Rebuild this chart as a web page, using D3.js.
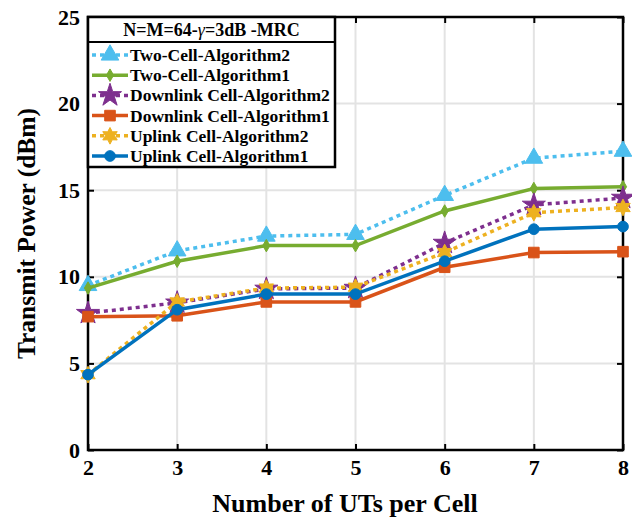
<!DOCTYPE html>
<html>
<head>
<meta charset="utf-8">
<script src="https://cdn.jsdelivr.net/npm/d3@7"></script>
<style>
  body { margin: 0; background: #fff; overflow: hidden; }
  svg { display: block; }
  text { font-family: "Liberation Serif", "Times New Roman", serif; font-weight: bold; fill: #000; }
</style>
</head>
<body>
<div id="chart"></div>
<script>
const users = [2, 3, 4, 5, 6, 7, 8];
const yTicks = [0, 5, 10, 15, 20, 25];

const twoCellAlg2 = [9.5, 11.5, 12.35, 12.45, 14.7, 16.85, 17.25];
const twoCellAlg1 = [9.35, 10.9, 11.8, 11.8, 13.8, 15.1, 15.2];
const downlinkAlg2 = [7.9, 8.5, 9.3, 9.35, 11.95, 14.15, 14.55];
const downlinkAlg1 = [7.7, 7.75, 8.55, 8.55, 10.55, 11.4, 11.45];
const uplinkAlg2 = [4.35, 8.55, 9.35, 9.4, 11.4, 13.7, 14.0];
const uplinkAlg1 = [4.35, 8.1, 9.0, 9.0, 10.9, 12.75, 12.9];

const series = [
    { name: "Two-Cell-Algorithm2", values: twoCellAlg2, color: "#4DBEEE", dotted: true, marker: "triangle" },
    { name: "Two-Cell-Algorithm1", values: twoCellAlg1, color: "#77AC30", dotted: false, marker: "cross" },
    { name: "Downlink Cell-Algorithm2", values: downlinkAlg2, color: "#7E2F8E", dotted: true, marker: "star" },
    { name: "Downlink Cell-Algorithm1", values: downlinkAlg1, color: "#D95319", dotted: false, marker: "square" },
    { name: "Uplink Cell-Algorithm2", values: uplinkAlg2, color: "#EDB120", dotted: true, marker: "hexstar" },
    { name: "Uplink Cell-Algorithm1", values: uplinkAlg1, color: "#0072BD", dotted: false, marker: "circle" }
];

const width = 632, height = 519;
const margin = { top: 17, right: 9, bottom: 69, left: 88 };
const innerWidth = width - margin.left - margin.right;
const innerHeight = height - margin.top - margin.bottom;

const svg = d3.select("#chart").append("svg")
    .attr("width", width)
    .attr("height", height);

const g = svg.append("g")
    .attr("transform", `translate(${margin.left},${margin.top})`);

const x = d3.scaleLinear().domain([2, 8]).range([0, innerWidth]);
const y = d3.scaleLinear().domain([0, 25]).range([innerHeight, 0]);

// grid
g.selectAll("line.vgrid")
    .data(users)
    .enter().append("line")
    .attr("x1", d => x(d)).attr("x2", d => x(d))
    .attr("y1", 0).attr("y2", innerHeight)
    .attr("stroke", "#e3e3e3").attr("stroke-width", 2);

g.selectAll("line.hgrid")
    .data(yTicks)
    .enter().append("line")
    .attr("x1", 0).attr("x2", innerWidth)
    .attr("y1", d => y(d)).attr("y2", d => y(d))
    .attr("stroke", "#e3e3e3").attr("stroke-width", 2);

// axes (ticks inward)
const tickLen = 6;
const xAxis = g.append("g")
    .attr("transform", `translate(0,${innerHeight})`)
    .call(d3.axisBottom(x).tickValues(users).tickSize(-tickLen).tickPadding(9).tickFormat(d3.format("d")));
const xAxisTop = g.append("g")
    .call(d3.axisTop(x).tickValues(users).tickSize(-tickLen).tickFormat(""));
const yAxis = g.append("g")
    .call(d3.axisLeft(y).tickValues(yTicks).tickSize(-tickLen).tickPadding(8));
const yAxisRight = g.append("g")
    .attr("transform", `translate(${innerWidth},0)`)
    .call(d3.axisRight(y).tickValues(yTicks).tickSize(-tickLen).tickFormat(""));

[xAxis, xAxisTop, yAxis, yAxisRight].forEach(a => {
    a.select(".domain").remove();
    a.selectAll(".tick line").attr("stroke", "#000").attr("stroke-width", 2);
    a.selectAll("text").attr("font-size", "22px").attr("fill", "#000")
        .style("font-family", "'Liberation Serif', serif").style("font-weight", "bold");
});
// the mirrored axes carry no labels
xAxisTop.selectAll("text").remove();
yAxisRight.selectAll("text").remove();

g.append("rect")
    .attr("width", innerWidth).attr("height", innerHeight)
    .attr("fill", "none").attr("stroke", "#000").attr("stroke-width", 2.5);

// markers
function markerPath(type, size) {
    if (type === "triangle") return d3.symbol(d3.symbolTriangle, size * 0.9)();
    if (type === "star") return d3.symbol(d3.symbolStar, size * 1.1)();
    if (type === "square") return d3.symbol(d3.symbolSquare, size * 0.75)();
    if (type === "circle") return d3.symbol(d3.symbolCircle, size * 0.6)();
    if (type === "cross") return d3.symbol(d3.symbolDiamond, size * 0.3)();
    if (type === "hexstar") {
        const pts = [];
        const R = Math.sqrt(size) * 0.68, r = R * 0.55;
        for (let i = 0; i < 12; i++) {
            const a = Math.PI / 6 * i - Math.PI / 2;
            const rad = i % 2 === 0 ? R : r;
            pts.push([rad * Math.cos(a), rad * Math.sin(a)]);
        }
        return "M" + pts.map(p => p.join(",")).join("L") + "Z";
    }
}

const line = d3.line()
    .x((d, i) => x(users[i]))
    .y(d => y(d));

const plot = g.append("g");
series.forEach(s => {
    plot.append("path")
        .datum(s.values)
        .attr("d", line)
        .attr("fill", "none")
        .attr("stroke", s.color)
        .attr("stroke-width", 3.5)
        .attr("stroke-dasharray", s.dotted ? "4,4" : null);

    plot.selectAll(null)
        .data(s.values)
        .enter().append("path")
        .attr("transform", (d, i) => `translate(${x(users[i])},${y(d)})`)
        .attr("d", markerPath(s.marker, 150))
        .attr("fill", s.color)
        .attr("stroke", s.color)
        .attr("stroke-width", 1);
});

// legend
const legend = g.append("g");
const legW = 247, legH = 150, titleH = 25;
legend.append("rect")
    .attr("width", legW).attr("height", legH)
    .attr("fill", "#fff").attr("stroke", "#000").attr("stroke-width", 2.5);
legend.append("line")
    .attr("x1", 0).attr("x2", legW).attr("y1", titleH).attr("y2", titleH)
    .attr("stroke", "#000").attr("stroke-width", 2);
const title = legend.append("text")
    .attr("x", legW / 2).attr("y", titleH / 2 + 6)
    .attr("text-anchor", "middle").attr("font-size", "18px");
title.append("tspan").text("N=M=64-");
title.append("tspan").attr("font-style", "italic").style("font-weight", "normal").text("γ");
title.append("tspan").text("=3dB -MRC");

const entry = legend.selectAll("g.entry")
    .data(series)
    .enter().append("g")
    .attr("transform", (d, i) => `translate(0,${titleH + 13 + i * 20.2})`);
entry.append("line")
    .attr("x1", 4).attr("x2", 40)
    .attr("stroke", d => d.color).attr("stroke-width", 3.5)
    .attr("stroke-dasharray", d => d.dotted ? "4,4" : null);
entry.append("path")
    .attr("transform", "translate(22,0)")
    .attr("d", d => markerPath(d.marker, 150))
    .attr("fill", d => d.color).attr("stroke", d => d.color);
entry.append("text")
    .attr("x", 42).attr("y", 6)
    .attr("font-size", "17.5px")
    .text(d => d.name);

// axis labels
svg.append("text")
    .attr("x", 345).attr("y", 512)
    .attr("text-anchor", "middle").attr("font-size", "26px")
    .text("Number of UTs per Cell");
svg.append("text")
    .attr("transform", `translate(35,${margin.top + innerHeight / 2}) rotate(-90)`)
    .attr("text-anchor", "middle").attr("font-size", "25.5px")
    .text("Transmit Power (dBm)");
</script>
</body>
</html>
